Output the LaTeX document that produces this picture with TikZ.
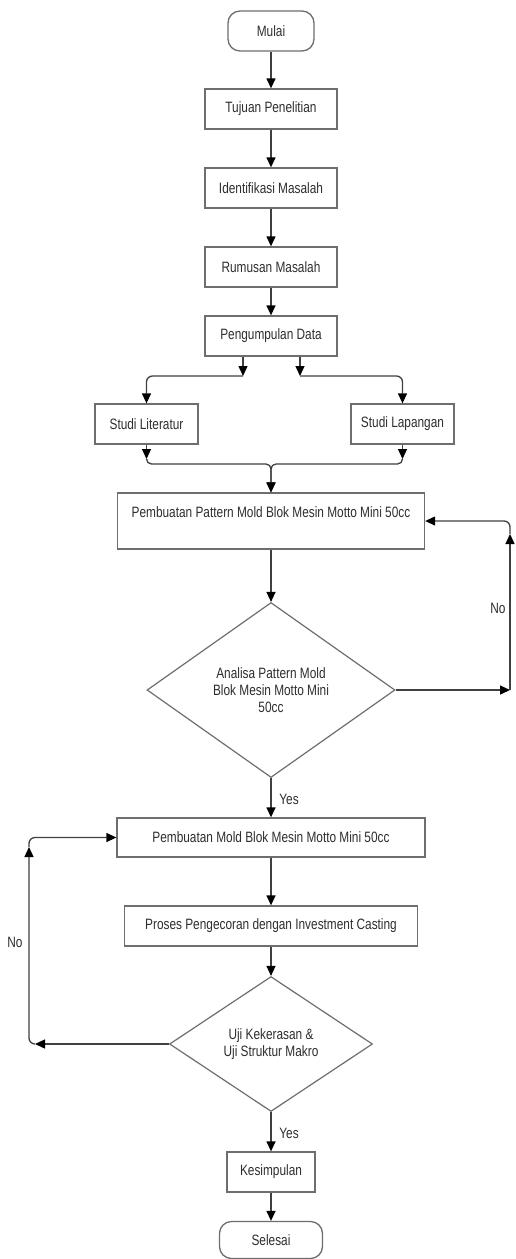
\documentclass[tikz,border=0pt]{standalone}
\usepackage{fontspec}
\setmainfont{Liberation Sans}[FakeStretch=0.79]
\usetikzlibrary{arrows.meta,shapes.geometric,calc}
\definecolor{boxline}{HTML}{6E6E6E}
\definecolor{conn}{HTML}{404040}
\definecolor{txt}{HTML}{2E2E2E}
\begin{document}
\begin{tikzpicture}[x=1pt,y=-1pt,
 every node/.style={font=\fontsize{15}{17}\selectfont, text=txt},
 procbox/.style={draw=boxline, line width=1.3pt, rectangle, minimum height=40pt, inner sep=0pt, align=center},
 term/.style={procbox, rounded corners=12pt},
 decis/.style={draw=boxline, line width=1.2pt, diamond, inner sep=0pt, align=center},
 conline/.style={draw=conn, line width=1.3pt},
 arr/.style={conline, -{Triangle[length=10pt,width=9pt,color=black]}},
 lbl/.style={font=\fontsize{15}{17}\selectfont}
]
\useasboundingbox[fill=white] (0,0) rectangle (515,1259);

\node[term, minimum width=86pt, minimum height=40pt] (mulai) at (271,31) {Mulai};
\node[procbox, minimum width=132pt] (tujuan) at (271,109) {Tujuan Penelitian};
\node[procbox, minimum width=132pt] (ident) at (271,188) {Identifikasi Masalah};
\node[procbox, minimum width=132pt] (rumus) at (271,267) {Rumusan Masalah};
\node[procbox, minimum width=132pt] (kumpul) at (271,336) {Pengumpulan Data};
\node[procbox, minimum width=103pt] (lit) at (146.5,424) {Studi Literatur};
\node[procbox, minimum width=103pt] (lap) at (402.5,424) {Studi Lapangan};
\node[procbox, minimum width=307pt, minimum height=56pt] (pat) at (271,521) {Pembuatan Pattern Mold Blok Mesin Motto Mini 50cc\\\mbox{}};
\node[decis, aspect=1.417, minimum width=248pt, minimum height=175pt] (ana) at (271,690) {Analisa Pattern Mold\\Blok Mesin Motto Mini\\50cc};
\node[procbox, minimum width=308pt, minimum height=39pt] (mold) at (271,837.5) {Pembuatan Mold Blok Mesin Motto Mini 50cc};
\node[procbox, minimum width=293pt] (proses) at (271,926) {Proses Pengecoran dengan Investment Casting};
\node[decis, aspect=1.5, minimum width=203pt, minimum height=135pt] (uji) at (271,1044) {Uji Kekerasan \&\\Uji Struktur Makro};
\node[procbox, minimum width=88pt] (kes) at (271,1172) {Kesimpulan};
\node[term, minimum width=103pt, minimum height=37pt] (sel) at (271,1240) {Selesai};

% main flow
\draw[arr] (mulai.south) -- (tujuan.north);
\draw[arr] (tujuan.south) -- (ident.north);
\draw[arr] (ident.south) -- (rumus.north);
\draw[arr] (rumus.south) -- (kumpul.north);

% branch
\coordinate (bl) at (243,376);
\coordinate (br) at (300,376);
\draw[arr] (kumpul.south -| bl) -- (bl);
\draw[arr] (kumpul.south -| br) -- (br);
\draw[arr, rounded corners=6pt] (bl) -| (lit.north);
\draw[arr, rounded corners=6pt] (br) -| (lap.north);

% merge
\coordinate (ml) at (146.5,459);
\coordinate (mr) at (402.5,459);
\coordinate (jn) at (271,464);
\draw[arr] (lit.south) -- (ml);
\draw[arr] (lap.south) -- (mr);
\draw[arr, rounded corners=5pt] (ml) |- (jn) -- (pat.north);
\draw[arr, rounded corners=5pt] (mr) |- (jn) -- (pat.north);

\draw[arr] (pat.south) -- (ana.north);

% No loop right
\coordinate (nr1) at (510,690);
\coordinate (nr2) at (510,534);
\draw[arr] (ana.east) -- (nr1);
\draw[arr] (nr1) -- (nr2);
\draw[arr, rounded corners=6pt] (nr2) |- (pat.east);
\node[lbl] (no1) at (498,608) {No};

% Yes
\draw[arr] (ana.south) -- (mold.north);
\node[lbl] (yes1) at (289,799) {Yes};

\draw[arr] (mold.south) -- (proses.north);
\draw[arr] (proses.south) -- (uji.north);

% No loop left
\coordinate (nl1) at (35,1044);
\coordinate (nl2) at (29,847);
\draw[arr] (uji.west) -- (nl1);
\draw[arr, rounded corners=6pt] (nl1) -| (nl2);
\draw[arr, rounded corners=6pt] (nl2) |- (mold.west);
\node[lbl] (no2) at (15,942) {No};

\draw[arr] (uji.south) -- (kes.north);
\node[lbl] (yes2) at (289,1133) {Yes};
\draw[arr] (kes.south) -- (sel.north);
\end{tikzpicture}
\end{document}
